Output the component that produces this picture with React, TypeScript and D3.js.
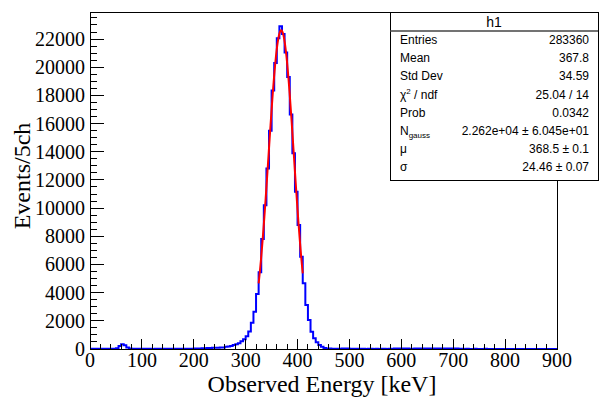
import React from 'react';
import * as d3 from 'd3';

// histogram h1: 180 bins of 5 keV from 0 to 900 keV
const binWidth = 5;
const counts = [
  // 0 - 45 keV
  15, 22, 18, 14, 16, 12, 15, 13, 11, 14,
  // 50 - 95
  60, 220, 330, 260, 110, 30, 14, 12, 10, 11,
  // 100 - 145
  10, 9, 11, 10, 8, 9, 10, 11, 9, 10,
  // 150 - 195
  12, 11, 13, 12, 14, 15, 16, 18, 20, 22,
  // 200 - 245
  28, 35, 42, 50, 58, 65, 72, 80, 88, 95,
  // 250 - 295
  100, 110, 160, 170, 210, 280, 330, 400, 550, 700,
  // 300 - 345
  900, 1250, 1870, 2650, 3900, 5450, 7800, 10200, 12820, 15500,
  // 350 - 395
  18350, 20300, 22050, 22900, 22350, 21050, 19300, 16650, 13900, 11160,
  // 400 - 445
  8800, 6550, 4660, 3120, 2060, 1230, 760, 475, 280, 160,
  // 450 - 495
  70, 40, 28, 22, 18, 15, 14, 30, 40, 35,
  // 500 - 545
  14, 12, 10, 11, 9, 10, 8, 9, 10, 8,
  // 550 - 595
  9, 8, 10, 9, 8, 9, 8, 32, 36, 30,
  // 600 - 645
  34, 30, 28, 12, 10, 28, 32, 35, 30, 33,
  // 650 - 695
  36, 30, 34, 31, 29, 35, 33, 30, 32, 28,
  // 700 - 745
  30, 34, 26, 10, 8, 9, 8, 7, 9, 8,
  // 750 - 795
  8, 7, 9, 8, 7, 8, 6, 7, 8, 7,
  // 800 - 845
  7, 6, 8, 7, 6, 7, 6, 5, 7, 6,
  // 850 - 895
  6, 5, 6, 7, 5, 6, 5, 4, 6, 5,
];

// gaus fit shown in the stats box
const fitN = 22620;
const fitMu = 368.5;
const fitSigma = 24.46;
const fitRange = [325, 410];

const xTicks = [0, 100, 200, 300, 400, 500, 600, 700, 800, 900];
const yTicks = [0, 2000, 4000, 6000, 8000, 10000, 12000, 14000, 16000, 18000, 20000, 22000];

const statLabels = ['Entries', 'Mean', 'Std Dev', 'chi2', 'Prob', 'Ngauss', 'μ', 'σ'];
const statValues = ['283360', '367.8', '34.59', '25.04 / 14', '0.0342',
  '2.262e+04 ± 6.045e+01', '368.5 ± 0.1', '24.46 ± 0.07'];

const W = 600;
const H = 402;
const left = 90, right = 557, top = 12, bottom = 349;

const serif = '"Liberation Serif", "Times New Roman", serif';
const sans = '"Liberation Sans", Arial, sans-serif';

const statLabel = (l: string) => {
  if (l === 'chi2') return (<>χ<tspan fontSize="8" dy="-5">2</tspan><tspan dy="5"> / ndf</tspan></>);
  if (l === 'Ngauss') return (<>N<tspan fontSize="8" dy="3">gauss</tspan></>);
  return l;
};

const App = () => {
  let x = d3.scaleLinear().domain([0, 900]).range([left, right]);
  let y = d3.scaleLinear().domain([0, 23920]).range([bottom, top]);

  let pts: [number, number][] = counts.map((c, i) => [i * binWidth, c]);
  pts.push([counts.length * binWidth, counts[counts.length - 1]]);
  let histLine = d3.line<[number, number]>()
    .x(d => x(d[0]))
    .y(d => y(d[1]))
    .curve(d3.curveStepAfter);

  let fitPts = d3.range(fitRange[0], fitRange[1] + 0.01, 0.85)
    .map(e => [e, fitN * Math.exp(-0.5 * ((e - fitMu) / fitSigma) ** 2)] as [number, number]);
  let fitLine = d3.line<[number, number]>()
    .x(d => x(d[0]))
    .y(d => y(d[1]));

  let xMinor = d3.range(0, 901, 20);
  let yMinor = d3.range(0, 23920, 500);

  const boxL = 390, boxR = 598, boxT = 12, boxB = 180;

  return (
    <svg width={W} height={H} style={{ position: 'absolute', left: 0, top: 0, background: '#fff' }}>
      <defs>
        <clipPath id="frame">
          <rect x={left} y={top} width={right - left} height={bottom - top} />
        </clipPath>
      </defs>

      <g clipPath="url(#frame)">
        <path d={histLine(pts) || ''} fill="none" stroke="#0000ff" strokeWidth={2} />
        <path d={fitLine(fitPts) || ''} fill="none" stroke="#ff0000" strokeWidth={2} />
      </g>

      <g stroke="#000" strokeWidth={1} shapeRendering="crispEdges">
        {xMinor.map(v => (
          <line key={'xm' + v} x1={x(v)} x2={x(v)} y1={bottom} y2={bottom - (v % 100 === 0 ? 10 : 5)} />
        ))}
        {yMinor.map(v => (
          <line key={'ym' + v} x1={left} x2={left + (v % 2000 === 0 ? 14 : 7)} y1={y(v)} y2={y(v)} />
        ))}
        <rect x={left} y={top} width={right - left} height={bottom - top} fill="none" />
      </g>

      <g fontFamily={serif} fontSize={20} fill="#000">
        {xTicks.map(v => (
          <text key={'xl' + v} x={x(v)} y={367} textAnchor="middle">{v}</text>
        ))}
        {yTicks.map(v => (
          <text key={'yl' + v} x={85} y={y(v)} dy="0.35em" textAnchor="end">{v}</text>
        ))}
      </g>

      <text x={322} y={392} textAnchor="middle" fontFamily={serif} fontSize={24}>Observed Energy [keV]</text>
      <text transform="translate(30,176) rotate(-90)" textAnchor="middle" fontFamily={serif} fontSize={24}>Events/5ch</text>

      <g fontFamily={sans}>
        <rect x={boxL + 0.5} y={boxT + 0.5} width={boxR - boxL} height={boxB - boxT} fill="#fff" stroke="#000" shapeRendering="crispEdges" />
        <line x1={boxL} x2={boxR} y1={31} y2={31} stroke="#444" strokeWidth={1.5} />
        <text x={(boxL + boxR) / 2} y={27} textAnchor="middle" fontSize={14}>h1</text>
        {statLabels.map((l, i) => (
          <g key={l} fontSize={12}>
            <text x={400} y={44 + i * 18.2}>{statLabel(l)}</text>
            <text x={589} y={44 + i * 18.2} textAnchor="end">{statValues[i]}</text>
          </g>
        ))}
      </g>
    </svg>
  );
};

export default App;
